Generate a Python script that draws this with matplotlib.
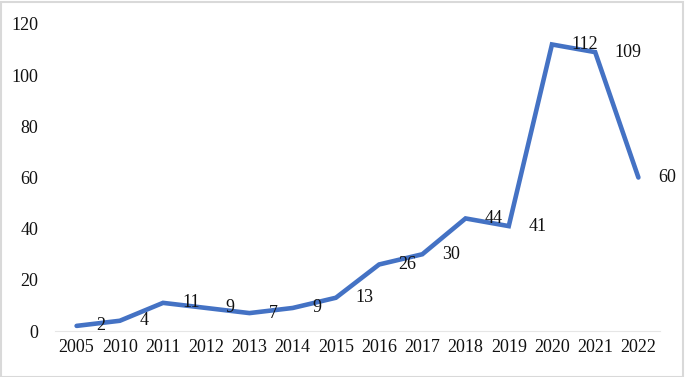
import matplotlib
matplotlib.use("Agg")
import matplotlib.pyplot as plt
from matplotlib.patches import Rectangle

years = ["2005", "2010", "2011", "2012", "2013", "2014", "2015", "2016",
         "2017", "2018", "2019", "2020", "2021", "2022"]
counts = [2, 4, 11, 9, 7, 9, 13, 26, 30, 44, 41, 112, 109, 60]
yticks = [0, 20, 40, 60, 80, 100, 120]

plt.rcParams['font.family'] = ['Liberation Serif', 'DejaVu Serif']

fig = plt.figure(figsize=(6.85, 3.77), dpi=100)
ax = fig.add_axes([55/685, 1 - 331/377, (660-55)/685, (331-24)/377])

x = list(range(len(years)))
ax.plot(x, counts, color='#4472C4', lw=3.3, solid_joinstyle='miter', solid_capstyle='round', zorder=3)
for xi, v in zip(x, counts):
    ax.annotate(str(v), (xi, v), xytext=(14, 0), textcoords='offset points',
                ha='left', va='center', fontsize=13, color='#111111')

ax.set_xlim(-0.5, len(years) - 0.5)
ax.set_ylim(0, 120)
ax.set_xticks(x)
ax.set_xticklabels(years, fontsize=13)
ax.set_yticks(yticks)
ax.set_yticklabels([str(t) for t in yticks], fontsize=13)
ax.tick_params(axis='both', length=0, colors='#111111')
ax.tick_params(axis='y', pad=12)
ax.tick_params(axis='x', pad=6)
for s in ['top', 'right', 'left']:
    ax.spines[s].set_visible(False)
ax.spines['bottom'].set_color('#e6e6e6')
ax.spines['bottom'].set_linewidth(0.8)
for lbl in ax.get_xticklabels() + ax.get_yticklabels():
    lbl.set_color('#111111')

fig.patches.append(Rectangle((0.5/685, 0.5/377), 1 - 2.5/685, 1 - 2.5/377,
                             transform=fig.transFigure, fill=False,
                             edgecolor='#d9d9d9', lw=1.5))

fig.savefig('out.png', dpi=100)
